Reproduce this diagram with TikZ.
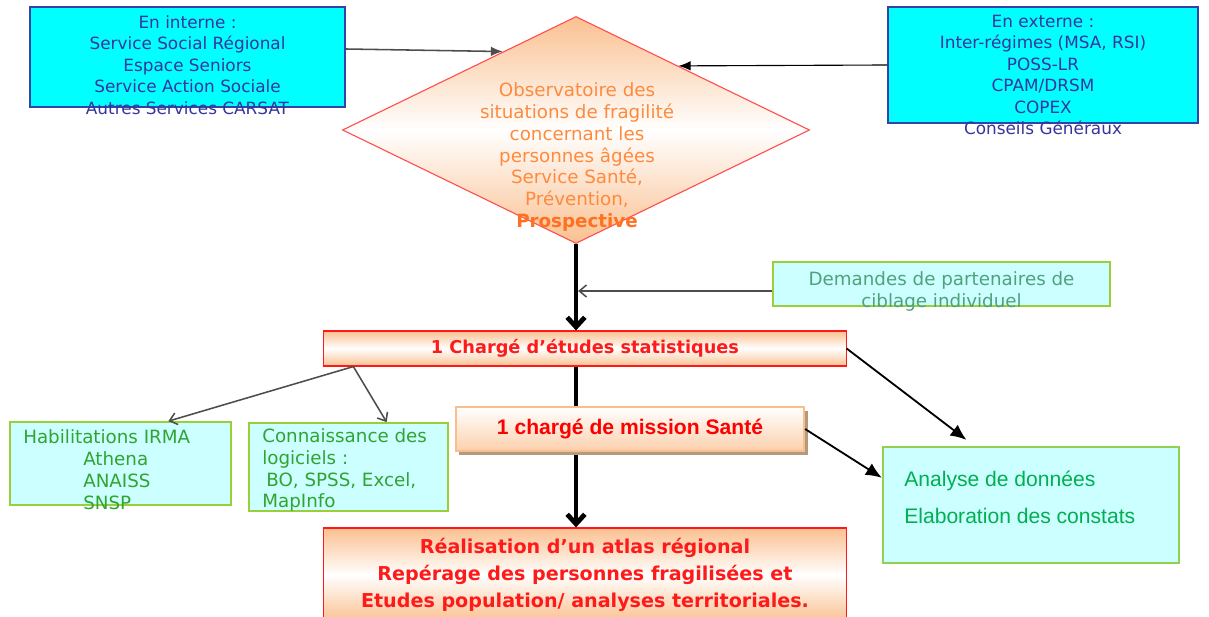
\documentclass[tikz,border=0pt]{standalone}
\usepackage{fontspec}
\setmainfont{DejaVu Sans}
\newfontfamily\arialfont{Liberation Sans}
\usetikzlibrary{arrows.meta,positioning,calc,shapes.geometric,shadows}
\definecolor{aqua}{HTML}{00FFFF}
\definecolor{navyline}{HTML}{3343A6}
\definecolor{navytext}{HTML}{35359E}
\definecolor{paleaqua}{HTML}{CCFFFF}
\definecolor{lime}{HTML}{9BCF3A}
\definecolor{leaf}{HTML}{2FA52F}
\definecolor{seagreen}{HTML}{4FA27A}
\definecolor{kelly}{HTML}{00B050}
\definecolor{grass}{HTML}{92D050}
\definecolor{peach}{HTML}{FAC090}
\definecolor{salmon}{HTML}{FF5050}
\definecolor{tangerine}{HTML}{FF8A3D}
\definecolor{pumpkin}{HTML}{FF7020}
\definecolor{scarlet}{HTML}{FF1A1A}
\definecolor{apricot}{HTML}{F9BE8C}
\definecolor{cocoa}{HTML}{B39A7E}
\definecolor{graphite}{HTML}{4D4D4D}
\tikzset{every node/.style={font=\fontsize{12}{15.2}\selectfont,inner sep=0pt},
 bluebox/.style={draw=navyline,fill=aqua,line width=1.3pt},
 greenbox/.style={draw=lime,fill=paleaqua,line width=1.2pt},
 band/.style={draw=salmon,line width=.8pt,top color=peach,bottom color=peach,middle color=white},
 bluetext/.style={text=navytext,align=center},
 greentext/.style={text=leaf,align=left,anchor=west,font=\fontsize{13}{15.6}\selectfont},
 heavy/.style={-{Straight Barb[length=2.4mm,width=4.4mm]},line width=3.4pt},
 pointer/.style={-{Latex[length=3mm,width=2.4mm]},draw=graphite,line width=1.1pt},
 barb/.style={-{Straight Barb[length=1.8mm,width=3mm]},draw=graphite,line width=1.1pt},
 bold link/.style={-{Latex[length=4mm,width=3.4mm]},line width=1.3pt}}
\begin{document}
\begin{tikzpicture}[x=0.025cm,y=-0.025cm]

\path[use as bounding box] (0,0) rectangle (1209,617);
\node[bluebox,minimum width=7.875cm,minimum height=2.5cm] (interne) at (187.5,57) {};
\node[bluetext] (internetxt) at (187.5,65)
 {En interne :\\Service Social Régional\\Espace Seniors\\Service Action Sociale\\Autres Services CARSAT};
\node[bluebox,minimum width=7.75cm,minimum height=2.9cm] (externe) at (1043,65) {};
\node[bluetext] (externetxt) at (1043,75)
 {En externe :\\Inter-régimes (MSA, RSI)\\POSS-LR\\CPAM/DRSM\\COPEX\\Conseils Généraux};
\node[diamond,band,minimum width=11.675cm,minimum height=5.675cm] (obs) at (576,130) {};
\node[text=tangerine,align=center,font=\fontsize{13}{15.6}\selectfont] (obstxt) at (577,157)
 {Observatoire des\\situations de fragilité\\concernant les\\personnes âgées\\Service Santé,\\Prévention,\\\textcolor{pumpkin}{\textbf{Prospective}}};
\node[greenbox,minimum width=8.425cm,minimum height=1.1cm] (dem) at (941.5,284) {};
\node[text=seagreen,align=center,font=\fontsize{13}{15.6}\selectfont] (demtxt) at (941.5,291)
 {Demandes de partenaires de\\ciblage individuel};
\node[band,draw=scarlet,minimum width=13.05cm,minimum height=.875cm,text=scarlet,
 font=\bfseries\fontsize{12.6}{15}\selectfont] (stats) at (585,348.5) {1 Chargé d’études statistiques};
\node[band,draw=scarlet,minimum width=13.05cm,minimum height=2.35cm,text=scarlet,align=center,
 font=\bfseries\fontsize{13.6}{19}\selectfont] (realis) at (585,575)
 {Réalisation d’un atlas régional\\Repérage des personnes fragilisées et\\Etudes population/ analyses territoriales.};
\node[greenbox,minimum width=5.525cm,minimum height=2.075cm] (habil) at (120.5,463.5) {};
\node[greentext] (habiltxt) at (23,470)
 {Habilitations IRMA\\\hspace*{1.5cm}Athena\\\hspace*{1.5cm}ANAISS\\\hspace*{1.5cm}SNSP};
\node[greenbox,minimum width=4.975cm,minimum height=2.2cm] (logi) at (348.5,467) {};
\node[greentext] (logitxt) at (262,470)
 {Connaissance des\\logiciels :\\\hspace*{.1cm}BO, SPSS, Excel,\\MapInfo};
\node[greenbox,draw=grass,line width=1.6pt,minimum width=7.4cm,minimum height=2.9cm] (analyse) at (1031,505) {};
\node[text=kelly,align=left,anchor=west,font=\arialfont\fontsize{15}{26}\selectfont] (analysetxt) at (904,497.5)
 {Analyse de données\\Elaboration des constats};

\draw[pointer] ($(interne.east)+(0,-8)$) -- (obs.133.5);
\draw[pointer,draw=black,line width=.8pt] (externe.west) -- (obs.32);
\draw[heavy] (obs.south) -- (obs.south |- stats.north);
\coordinate (demport) at ($(dem.west)+(0,7)$);
\draw[barb,shorten >=1.5pt] (demport) -- (demport -| obs.south);
\draw[heavy] (stats.south -| obs.south) -- (realis.north -| obs.south);
\coordinate (fork) at ($(stats.south west)+(30,0)$);
\draw[barb] (fork) -- ($(habil.north west)!.715!(habil.north east)$);
\draw[barb] (fork) -- ($(logi.north west)!.69!(logi.north east)$);
\draw[bold link,shorten >=7pt] (stats.east) -- ($(analyse.north west)!.31!(analyse.north east)$);

\node[draw=apricot,line width=1.5pt,top color=white,bottom color=peach!75,minimum width=8.7cm,minimum height=1.1cm,
 text=red,font=\arialfont\bfseries\fontsize{15}{18}\selectfont,
 drop shadow={shadow xshift=2.5pt,shadow yshift=-3pt,fill=cocoa,opacity=1}] (mission) at (630,429) {1 chargé de mission Santé};
\draw[bold link] (mission.east) -- ($(analyse.north west)!.27!(analyse.south west)$);

\end{tikzpicture}
\end{document}
